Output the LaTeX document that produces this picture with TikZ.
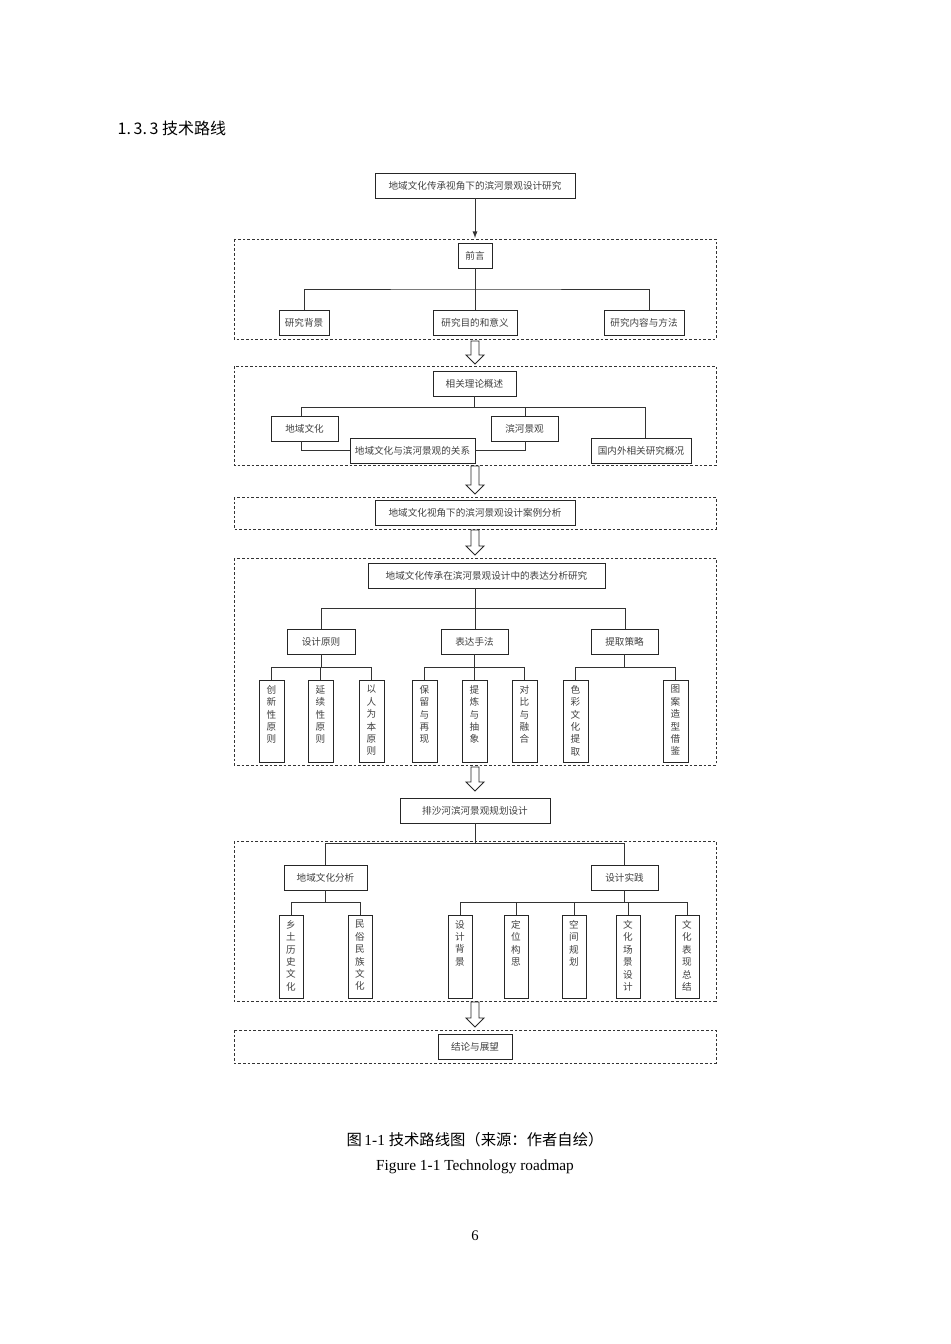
\documentclass[tikz,border=0pt]{standalone}
\usepackage{fontspec}
\setmainfont{Liberation Serif}
\newfontfamily\cjk{Noto Sans CJK SC}
\usetikzlibrary{calc}
\tikzset{
  box/.style={draw=black!85,line width=0.7pt,inner sep=0pt,font=\cjk\fontsize{7.2pt}{9.3pt}\selectfont,text=black!75,align=center},
  vtxt/.style={inner sep=0pt,font=\cjk\fontsize{7.2pt}{9.3pt}\selectfont,text=black!75,align=center,anchor=north},
  frame/.style={draw=black!80,dash pattern=on 2pt off 1.5pt,line width=0.6pt},
  ln/.style={draw=black!80,line width=0.7pt},
  hollow/.style={draw=black!85,line width=0.7pt,fill=white}
}
\newcommand\bx[6]{\node[box,minimum width={(#4-#2)*0.75pt},minimum height={(#5-#3)*0.75pt}] (#1) at ({(#2+#4)/2},{(#3+#5)/2}) {#6};}
\newcommand\vb[6]{\node[box,minimum width={(#4-#2)*0.75pt},minimum height={(#5-#3)*0.75pt}] (#1) at ({(#2+#4)/2},{(#3+#5)/2}) {};
\node[vtxt] (#1t) at ({(#2+#4)/2},{#3+5}) {#6};}
\newcommand\hol[2]{\draw[hollow] (471,#1) -- (479,#1) -- (479,{#2-9}) -- (484,{#2-9}) -- (475,#2) -- (466,{#2-9}) -- (471,{#2-9}) -- cycle;}
\begin{document}
\begin{tikzpicture}[x=0.75pt,y=-0.75pt]
\useasboundingbox (0,0) rectangle (950,1344);
\node[anchor=west,font=\cjk\fontsize{12pt}{14pt}\selectfont] (h) at (113,128) {1.\,3.\,3 技术路线};
% frames
\draw[frame] (234,239) rectangle (716,339);
\draw[frame] (234,366) rectangle (716,465);
\draw[frame] (234,497) rectangle (716,529);
\draw[frame] (234,558) rectangle (716,765);
\draw[frame] (234,841) rectangle (716,1001);
\draw[frame] (234,1030) rectangle (716,1063);
% top
\bx{top}{375}{173}{575}{198}{地域文化传承视角下的滨河景观设计研究}
\bx{qy}{458}{243}{492}{268}{前言}
\draw[ln,-latex] (top) -- (475,238);
\bx{a1}{279}{310}{329}{335}{研究背景}
\bx{a2}{433}{310}{517}{335}{研究目的和意义}
\bx{a3}{604}{310}{684}{335}{研究内容与方法}
\draw[ln] (qy.south) -- (a2.north);
\draw[ln] (304,310) |- (475,289) -| (649,310);
\hol{341}{364}
% section 2
\bx{ll}{433}{371}{516}{396}{相关理论概述}
\bx{b1}{271}{416}{338}{441}{地域文化}
\bx{b2}{491}{416}{558}{441}{滨河景观}
\bx{b3}{591}{438}{691}{463}{国内外相关研究概况}
\bx{b4}{350}{438}{475}{463}{地域文化与滨河景观的关系}
\draw[ln] (474,396) -- (474,407);
\draw[ln] (301,416) |- (645,407) -- (645,438);
\draw[ln] (525,407) -- (525,416);
\draw[ln] (301,441) |- (b4.west);
\draw[ln] (525,441) |- (b4.east);
\hol{466}{494}
% section 3
\bx{c1}{375}{500}{575}{525}{地域文化视角下的滨河景观设计案例分析}
\hol{530}{555}
% section 4
\bx{d0}{368}{563}{605}{588}{地域文化传承在滨河景观设计中的表达分析研究}
\bx{d1}{287}{629}{355}{654}{设计原则}
\bx{d2}{441}{629}{508}{654}{表达手法}
\bx{d3}{591}{629}{658}{654}{提取策略}
\draw[ln] (475,588) -- (475,608);
\draw[ln] (321,629) |- (625,608) -- (625,629);
\draw[ln] (475,608) -- (475,629);
\vb{e1}{259}{680}{284}{762}{创\\新\\性\\原\\则}
\vb{e2}{308}{680}{333}{762}{延\\续\\性\\原\\则}
\vb{e3}{359}{680}{384}{762}{以\\人\\为\\本\\原\\则}
\vb{e4}{412}{680}{437}{762}{保\\留\\与\\再\\现}
\vb{e5}{462}{680}{487}{762}{提\\炼\\与\\抽\\象}
\vb{e6}{512}{680}{537}{762}{对\\比\\与\\融\\合}
\vb{e7}{563}{680}{588}{762}{色\\彩\\文\\化\\提\\取}
\vb{e8}{663}{680}{688}{762}{图\\案\\造\\型\\借\\鉴}
\draw[ln] (321,654) -- (321,667); \draw[ln] (271,680) |- (371,667) -- (371,680); \draw[ln] (320.5,667) -- (320.5,680);
\draw[ln] (474.5,654) -- (474.5,680); \draw[ln] (424.5,680) |- (524.5,667) -- (524.5,680);
\draw[ln] (624.5,654) -- (624.5,667); \draw[ln] (575.5,680) |- (675.5,667) -- (675.5,680);
\hol{767}{791}
% section 5
\bx{f0}{400}{798}{550}{823}{排沙河滨河景观规划设计}
\bx{f1}{284}{865}{367}{890}{地域文化分析}
\bx{f2}{591}{865}{658}{890}{设计实践}
\draw[ln] (475,823) -- (475,843);
\draw[ln] (325.5,865) |- (624.5,843) -- (624.5,865);
\vb{g1}{279}{915}{303}{998}{乡\\土\\历\\史\\文\\化}
\vb{g2}{348}{915}{372}{998}{民\\俗\\民\\族\\文\\化}
\vb{g3}{448}{915}{472}{998}{设\\计\\背\\景}
\vb{g4}{504}{915}{528}{998}{定\\位\\构\\思}
\vb{g5}{562}{915}{586}{998}{空\\间\\规\\划}
\vb{g6}{616}{915}{640}{998}{文\\化\\场\\景\\设\\计}
\vb{g7}{675}{915}{699}{998}{文\\化\\表\\现\\总\\结}
\draw[ln] (325.5,890) -- (325.5,902); \draw[ln] (291,915) |- (360,902) -- (360,915);
\draw[ln] (624.5,890) -- (624.5,902); \draw[ln] (460,915) |- (687,902) -- (687,915);
\draw[ln] (516,902) -- (516,915); \draw[ln] (574,902) -- (574,915); \draw[ln] (628,902) -- (628,915);
\hol{1002}{1027}
\bx{h1}{438}{1034}{512}{1059}{结论与展望}
% captions
\node[font=\cjk\fontsize{11.5pt}{13pt}\selectfont] (cap1) at (475,1140) {图{\fontspec{Liberation Serif}\,1-1 }技术路线图（来源：作者自绘）};
\node[font=\fontsize{11.5pt}{13pt}\selectfont] (cap2) at (475,1167) {Figure 1-1 Technology roadmap};
\node[font=\fontsize{11pt}{13pt}\selectfont] (pg) at (475,1236) {6};
\end{tikzpicture}
\end{document}
